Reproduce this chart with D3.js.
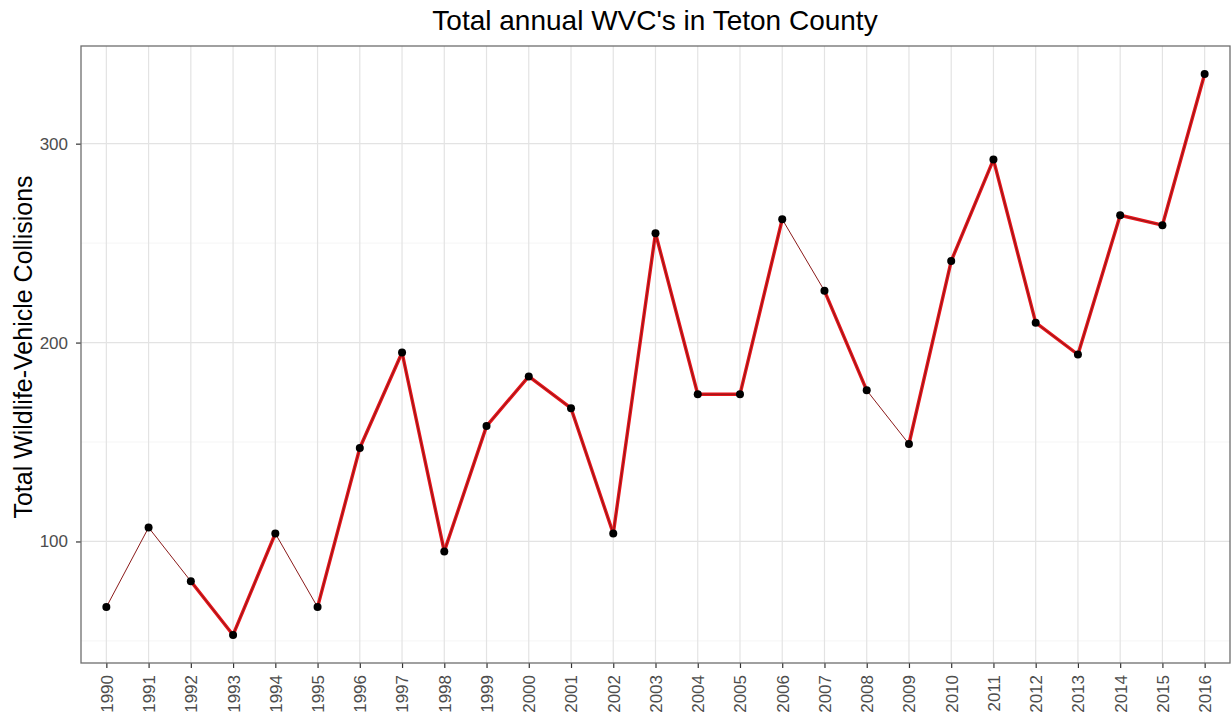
<!DOCTYPE html>
<meta charset="utf-8">
<title>Total annual WVC's in Teton County</title>
<style>
body { margin: 0; background: #fff; }
svg { font-family: "Liberation Sans", Arial, sans-serif; }
</style>
<svg width="1231" height="721"></svg>
<script src="https://d3js.org/d3.v7.min.js"></script>
<script>
  var years = ["1990","1991","1992","1993","1994","1995","1996","1997","1998","1999","2000","2001","2002",
               "2003","2004","2005","2006","2007","2008","2009","2010","2011","2012","2013","2014","2015","2016"]
  var collisions = [67,107,80,53,104,67,147,195,95,158,183,167,104,
                    255,174,174,262,226,176,149,241,292,210,194,264,259,335]
  var yTicks = [100, 200, 300]
  var yMinor = [50, 150, 250]

  // segments that start at these years are drawn thin in the original
  var thinFrom = ["1990","1991","1994","2006","2008"]

  var svg = d3.select("svg"),
    pLeft = 81, pRight = 1230, pTop = 46, pBottom = 663

  var data = years.map((yr, i) => ({ year: yr, value: collisions[i] }))

  var x = d3.scalePoint().domain(years).range([pLeft, pRight]).padding(0.6)
  var ext = d3.extent(collisions), pad = (ext[1] - ext[0]) * 0.05
  var y = d3.scaleLinear().domain([ext[0] - pad, ext[1] + pad]).range([pBottom, pTop])

  // grid
  var grid = svg.append("g")
  grid.selectAll(".minor").data(yMinor).enter().append("line")
    .attr("x1", pLeft).attr("x2", pRight)
    .attr("y1", d => y(d)).attr("y2", d => y(d))
    .attr("stroke", "#f2f2f2").attr("stroke-width", 0.8)
  grid.selectAll(".major").data(yTicks).enter().append("line")
    .attr("x1", pLeft).attr("x2", pRight)
    .attr("y1", d => y(d)).attr("y2", d => y(d))
    .attr("stroke", "#e3e3e3").attr("stroke-width", 1.2)
  grid.selectAll(".vx").data(years).enter().append("line")
    .attr("x1", d => x(d)).attr("x2", d => x(d))
    .attr("y1", pTop).attr("y2", pBottom)
    .attr("stroke", "#e3e3e3").attr("stroke-width", 1.2)

  // axes
  var yAxis = svg.append("g").attr("transform", "translate(" + pLeft + ",0)")
    .call(d3.axisLeft(y).tickValues(yTicks).tickSize(5).tickPadding(8))
  var xAxis = svg.append("g").attr("transform", "translate(0," + pBottom + ")")
    .call(d3.axisBottom(x).tickSize(5).tickPadding(4))
  ;[xAxis, yAxis].forEach(function(a) {
    a.select(".domain").remove()
    a.selectAll(".tick line").attr("stroke", "#333").attr("stroke-width", 1.2)
    a.selectAll("text").attr("fill", "#4d4d4d").attr("font-size", "17px")
  })
  xAxis.selectAll("text")
    .attr("transform", "rotate(-90)")
    .attr("text-anchor", "end")
    .attr("dy", "0.35em")
    .attr("x", -12).attr("y", 0)

  // line: red body on selected segments, thin dark core everywhere
  var segs = d3.pairs(data)
  svg.append("g").selectAll("line").data(segs.filter(s => thinFrom.indexOf(s[0].year) == -1)).enter()
    .append("line")
    .attr("x1", s => x(s[0].year)).attr("y1", s => y(s[0].value))
    .attr("x2", s => x(s[1].year)).attr("y2", s => y(s[1].value))
    .attr("stroke", "#e8141a").attr("stroke-width", 3.4).attr("stroke-linecap", "round")
  svg.append("path").datum(data)
    .attr("fill", "none").attr("stroke", "#8b1a1a").attr("stroke-width", 1)
    .attr("d", d3.line().x(d => x(d.year)).y(d => y(d.value)))

  svg.append("g").selectAll("circle").data(data).enter().append("circle")
    .attr("cx", d => x(d.year)).attr("cy", d => y(d.value)).attr("r", 4)
    .attr("fill", "#000")

  // panel border
  svg.append("rect").attr("x", pLeft).attr("y", pTop)
    .attr("width", pRight - pLeft).attr("height", pBottom - pTop)
    .attr("fill", "none").attr("stroke", "#6e6e6e").attr("stroke-width", 1.3)

  svg.append("text").attr("x", 655).attr("y", 30)
    .attr("text-anchor", "middle").attr("font-size", "28px").attr("fill", "#000")
    .text("Total annual WVC's in Teton County")

  svg.append("text")
    .attr("transform", "translate(32,347) rotate(-90)")
    .attr("text-anchor", "middle").attr("font-size", "25px").attr("fill", "#000")
    .text("Total Wildlife-Vehicle Collisions")
</script>
